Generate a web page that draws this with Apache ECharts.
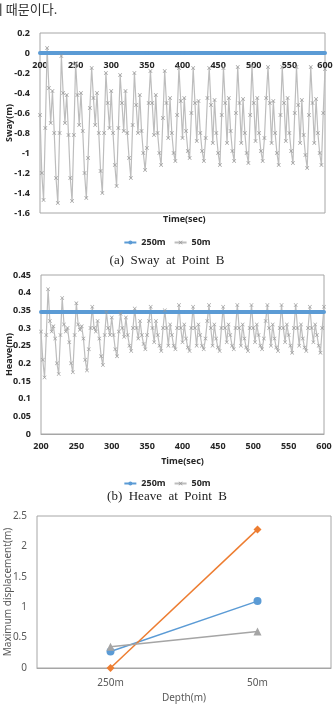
<!DOCTYPE html>
<html>
<head>
	<meta charset="UTF-8">
	<script src="https://cdn.jsdelivr.net/npm/echarts@6/dist/echarts.min.js"></script>
	<title></title>
	<style>body{margin:0;background:#fff;}</style>
</head>
<body>
	<div id="main" style="height:713px;width:334px;"></div>
	<script type="text/javascript">
        // time series: sample every 2.5 s starting at 200 s
        var t0 = 200, dt = 2.5;
        var timeTicks = [200, 250, 300, 350, 400, 450, 500, 550, 600];

        // (a) sway, 50m
        var sway50 = [
            -0.62, -1.2, -1.47, -0.75, 0.05, -0.35, -0.7, -0.38,
            -0.8, -1.25, -1.5, -0.8, -0.03, -0.4, -0.7, -0.42,
            -0.82, -1.25, -1.48, -0.82, -0.1, -0.42, -0.72, -0.4,
            -0.78, -1.2, -1.45, -1.05, -0.55, -0.15, -0.45, -0.72,
            -0.4, -0.8, -1.18, -1.4, -0.8, -0.2, -0.5, -0.75,
            -0.38, -0.8, -1.12, -1.33, -0.75, -0.22, -0.5, -0.78,
            -0.38, -0.8, -1.05, -1.25, -0.72, -0.2, -0.52, -0.8,
            -0.42, -0.78, -1.0, -1.17, -0.95, -0.5, -0.18, -0.5,
            -0.82, -0.42, -0.8, -1.0, -1.12, -0.65, -0.18, -0.5,
            -0.85, -0.45, -0.8, -1.0, -1.08, -0.62, -0.15, -0.48,
            -0.85, -0.45, -0.78, -0.98, -1.05, -0.6, -0.15, -0.5,
            -0.88, -0.48, -0.8, -0.98, -1.08, -0.85, -0.45, -0.15,
            -0.52, -0.9, -0.47, -0.8, -1.0, -1.12, -0.62, -0.15,
            -0.5, -0.9, -0.45, -0.78, -0.98, -1.08, -0.6, -0.14,
            -0.5, -0.9, -0.46, -0.8, -1.0, -1.1, -0.62, -0.13,
            -0.5, -0.88, -0.45, -0.8, -0.98, -1.08, -0.85, -0.45,
            -0.14, -0.5, -0.9, -0.48, -0.8, -1.0, -1.12, -0.62,
            -0.14, -0.5, -0.88, -0.45, -0.8, -0.98, -1.1, -0.6,
            -0.14, -0.52, -0.9, -0.47, -0.82, -1.02, -1.15, -0.62,
            -0.14, -0.5, -0.9, -0.46, -0.8, -1.0, -1.12, -0.6,
            -0.16
        ];
        // (b) heave, 50m
        var heave50 = [
            0.29, 0.21, 0.16, 0.28, 0.41, 0.32, 0.29, 0.305,
            0.27, 0.2, 0.17, 0.28, 0.385, 0.31, 0.29, 0.3,
            0.26, 0.2, 0.175, 0.28, 0.37, 0.31, 0.295, 0.305,
            0.27, 0.21, 0.18, 0.24, 0.3, 0.36, 0.3, 0.29,
            0.32, 0.27, 0.22, 0.195, 0.28, 0.345, 0.3, 0.28,
            0.33, 0.28, 0.24, 0.22, 0.29, 0.34, 0.3, 0.275,
            0.33, 0.28, 0.25, 0.235, 0.3, 0.355, 0.3, 0.27,
            0.32, 0.28, 0.255, 0.24, 0.28, 0.32, 0.36, 0.3,
            0.26, 0.32, 0.28, 0.25, 0.235, 0.3, 0.35, 0.3,
            0.25, 0.31, 0.28, 0.25, 0.24, 0.3, 0.365, 0.3,
            0.26, 0.31, 0.27, 0.245, 0.235, 0.3, 0.36, 0.3,
            0.25, 0.31, 0.28, 0.25, 0.24, 0.27, 0.32, 0.365,
            0.3, 0.25, 0.31, 0.27, 0.245, 0.235, 0.3, 0.36,
            0.3, 0.26, 0.31, 0.28, 0.25, 0.24, 0.3, 0.365,
            0.3, 0.25, 0.31, 0.27, 0.245, 0.235, 0.3, 0.365,
            0.3, 0.26, 0.31, 0.28, 0.25, 0.24, 0.27, 0.32,
            0.365, 0.3, 0.25, 0.31, 0.27, 0.245, 0.235, 0.3,
            0.365, 0.3, 0.26, 0.31, 0.28, 0.25, 0.23, 0.3,
            0.365, 0.3, 0.25, 0.31, 0.27, 0.245, 0.235, 0.3,
            0.36, 0.3, 0.26, 0.31, 0.28, 0.25, 0.23, 0.3,
            0.36
        ];
        // 250m stays flat, values at the time ticks
        var sway250 = [0, 0, 0, 0, 0, 0, 0, 0, 0];
        var heave250 = [0.345, 0.345, 0.345, 0.345, 0.345, 0.345, 0.345, 0.345, 0.345];

        // (c) maximum displacement vs depth
        var depthCats = ['250m', '50m'];
        var maxBlue = [0.27, 1.1];
        var maxOrange = [0, 2.28];
        var maxGray = [0.35, 0.6];

        function sampled(vals) {
            return vals.map(function (v, i) { return [t0 + i * dt, v]; });
        }
        function atTicks(vals) {
            return vals.map(function (v, i) { return [timeTicks[i], v]; });
        }

        var boldFont = { fontFamily: 'Noto Sans', fontWeight: 'bold', fontSize: 9, color: '#262626' };
        var lightFont = { fontFamily: 'Noto Sans', fontSize: 10, color: '#595959' };
        var xMark = 'path://M0,1L1,0L5,4L9,0L10,1L6,5L10,9L9,10L5,6L1,10L0,9L4,5Z';
        var gridBorder = '#a6a6a6';

        // offset moves the sway time axis up to the zero line, like the original
        function timeAxis(idx, name, gap, offset) {
            return {
                type: 'value', gridIndex: idx, min: 200, max: 600, interval: 50,
                offset: offset,
                name: name, nameLocation: 'middle', nameGap: gap, nameMoveOverlap: false,
                nameTextStyle: boldFont,
                axisLine: { onZero: false, lineStyle: { color: gridBorder } },
                axisTick: { show: false },
                splitLine: { show: false },
                axisLabel: Object.assign({ margin: 8 }, boldFont)
            };
        }

        var myChart = echarts.init(document.getElementById('main'));
        var option = {
            animation: false,
            grid: [
                { left: 40, right: 9, top: 33, height: 180, show: true, borderColor: gridBorder, borderWidth: 1, outerBoundsMode: 'none', containLabel: false },
                { left: 41, right: 10, top: 275, height: 159, show: true, borderColor: gridBorder, borderWidth: 1, outerBoundsMode: 'none', containLabel: false },
                { left: 37, right: 3, top: 516, height: 152, show: true, borderColor: gridBorder, borderWidth: 1, outerBoundsMode: 'none', containLabel: false }
            ],
            legend: [
                { data: ['250m', '50m'], top: 233, left: 'center', itemWidth: 12, itemHeight: 5, itemGap: 8, textStyle: boldFont },
                { data: ['250m', '50m'], top: 474, left: 'center', itemWidth: 12, itemHeight: 5, itemGap: 8, textStyle: boldFont }
            ],
            xAxis: [
                timeAxis(0, '', 0, -160),
                timeAxis(1, 'Time(sec)', 23, 0),
                {
                    type: 'category', gridIndex: 2, data: depthCats,
                    name: 'Depth(m)', nameLocation: 'middle', nameGap: 25, nameMoveOverlap: false,
                    nameTextStyle: lightFont,
                    axisLine: { lineStyle: { color: gridBorder } },
                    axisTick: { show: false },
                    axisLabel: Object.assign({ margin: 10 }, lightFont)
                }
            ],
            yAxis: [
                {
                    type: 'value', gridIndex: 0, min: -1.6, max: 0.2, interval: 0.2,
                    name: 'Sway(m)', nameLocation: 'middle', nameGap: 26, nameMoveOverlap: false, nameTextStyle: boldFont,
                    axisLine: { show: false }, axisTick: { show: false }, splitLine: { show: false },
                    axisLabel: Object.assign({ margin: 10 }, boldFont)
                },
                {
                    type: 'value', gridIndex: 1, min: 0, max: 0.45, interval: 0.05,
                    name: 'Heave(m)', nameLocation: 'middle', nameGap: 27, nameMoveOverlap: false, nameTextStyle: boldFont,
                    axisLine: { show: false }, axisTick: { show: false }, splitLine: { show: false },
                    axisLabel: Object.assign({ margin: 10 }, boldFont)
                },
                {
                    type: 'value', gridIndex: 2, min: 0, max: 2.5, interval: 0.5,
                    name: 'Maximum displacement(m)', nameLocation: 'middle', nameGap: 24, nameMoveOverlap: false,
                    nameTextStyle: lightFont,
                    axisLine: { show: false }, axisTick: { show: false }, splitLine: { show: false },
                    axisLabel: Object.assign({ margin: 10 }, lightFont)
                }
            ],
            graphic: [
                { type: 'text', left: -9, top: 3, style: { text: '기 때문이다.', font: '13px "Noto Sans CJK KR"', fill: '#333' } },
                { type: 'text', left: 'center', top: 254, style: { text: '(a)  Sway  at  Point  B', font: '13px "Liberation Serif"', fill: '#222' } },
                { type: 'text', left: 'center', top: 490, style: { text: '(b)  Heave  at  Point  B', font: '13px "Liberation Serif"', fill: '#222' } },
                // sway time-axis title sits under the plot, not under the zero line
                { type: 'text', left: 163, top: 215, style: { text: 'Time(sec)', font: 'bold 9px "Noto Sans"', fill: '#262626' } }
            ],
            series: [
                {
                    name: '50m', type: 'line', xAxisIndex: 0, yAxisIndex: 0, data: sampled(sway50),
                    symbol: xMark, symbolSize: 4,
                    lineStyle: { color: '#bdbdbd', width: 1.2 }, itemStyle: { color: '#999999' }
                },
                {
                    name: '250m', type: 'line', xAxisIndex: 0, yAxisIndex: 0, data: atTicks(sway250), z: 3,
                    symbol: 'circle', symbolSize: 4,
                    lineStyle: { color: '#5b9bd5', width: 4 }, itemStyle: { color: '#5b9bd5' }
                },
                {
                    name: '50m', type: 'line', xAxisIndex: 1, yAxisIndex: 1, data: sampled(heave50),
                    symbol: xMark, symbolSize: 4,
                    lineStyle: { color: '#bdbdbd', width: 1.2 }, itemStyle: { color: '#999999' }
                },
                {
                    name: '250m', type: 'line', xAxisIndex: 1, yAxisIndex: 1, data: atTicks(heave250), z: 3,
                    symbol: 'circle', symbolSize: 4,
                    lineStyle: { color: '#5b9bd5', width: 4 }, itemStyle: { color: '#5b9bd5' }
                },
                {
                    name: 'blue', type: 'line', xAxisIndex: 2, yAxisIndex: 2, data: maxBlue,
                    symbol: 'circle', symbolSize: 8,
                    lineStyle: { color: '#5b9bd5', width: 1.5 }, itemStyle: { color: '#5b9bd5' }
                },
                {
                    name: 'orange', type: 'line', xAxisIndex: 2, yAxisIndex: 2, data: maxOrange,
                    symbol: 'diamond', symbolSize: 8,
                    lineStyle: { color: '#ed7d31', width: 1.5 }, itemStyle: { color: '#ed7d31' }
                },
                {
                    name: 'gray', type: 'line', xAxisIndex: 2, yAxisIndex: 2, data: maxGray,
                    symbol: 'triangle', symbolSize: 8,
                    lineStyle: { color: '#a5a5a5', width: 1.5 }, itemStyle: { color: '#a5a5a5' }
                }
            ]
        };
        myChart.setOption(option);
	</script>
</body>
</html>
